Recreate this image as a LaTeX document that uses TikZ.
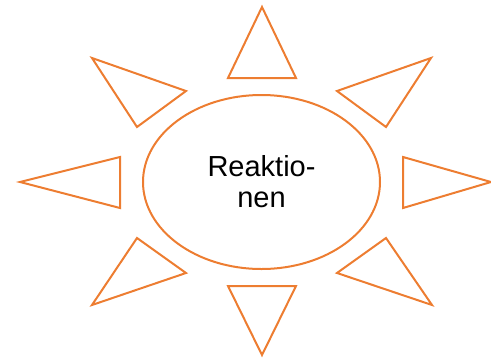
\documentclass[tikz,border=0pt]{standalone}
\usepackage{fontspec}
\setmainfont{Liberation Sans}
\usetikzlibrary{shapes.geometric}
\definecolor{sunorange}{HTML}{ED7D31}
\begin{document}
\begin{tikzpicture}[x=1pt,y=-1pt,
  ray/.style={draw=sunorange,line width=2pt,line join=miter},
  core/.style={draw=sunorange,line width=2pt,ellipse,minimum width=237pt,minimum height=174pt,inner sep=0pt,align=center,font=\fontsize{29}{31}\selectfont}]
\useasboundingbox (0,0) rectangle (491,357);
\node[core] (sun) at (261.5,182) {Reaktio-\\nen};
% top
\draw[ray] (262,7) -- (296,78) -- (228,78) -- cycle;
% bottom
\draw[ray] (262,355) -- (296,286) -- (228,286) -- cycle;
% left
\draw[ray] (20,182) -- (120,157) -- (120,208) -- cycle;
% right
\draw[ray] (491,182) -- (403,157) -- (403,208) -- cycle;
% upper left
\draw[ray] (92,58) -- (186,91) -- (137,127) -- cycle;
% upper right
\draw[ray] (431,58) -- (337,91) -- (386,127) -- cycle;
% lower left
\draw[ray] (92,305) -- (186,273) -- (137,238) -- cycle;
% lower right
\draw[ray] (432,305) -- (337,273) -- (386,238) -- cycle;
\end{tikzpicture}
\end{document}
